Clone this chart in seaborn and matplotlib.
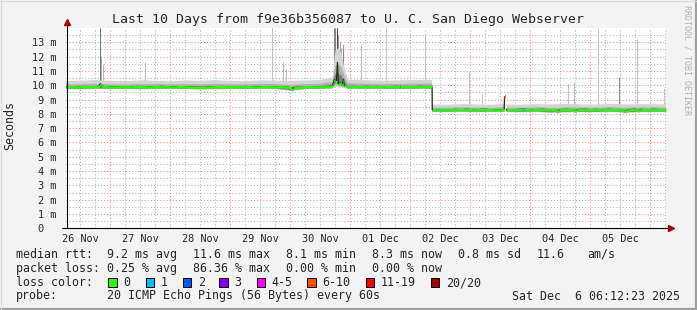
import numpy as np
import pandas as pd
import seaborn as sns
import matplotlib.pyplot as plt
from matplotlib.lines import Line2D
from matplotlib.patches import Rectangle

# time axis: days since 26 Nov 00:00
day_labels = ["26 Nov", "27 Nov", "28 Nov", "29 Nov", "30 Nov",
              "01 Dec", "02 Dec", "03 Dec", "04 Dec", "05 Dec"]

# median rtt (ms), NaN = no data
median_t = [0.26, 0.35, 0.45, 0.55, 0.65, 0.75, 0.81, 0.833, 0.86, 0.95,
            1.05, 1.15, 1.25, 1.35, 1.45, 1.55, 1.65, 1.75, 1.85, 1.95,
            2.05, 2.15, 2.25, 2.35, 2.45, 2.55, 2.65, 2.75, 2.85, 2.95,
            3.05, 3.15, 3.25, 3.35, 3.45, 3.55, 3.65, 3.75, 3.85, 3.95,
            4.00, 4.03, 4.06, 4.15, 4.25, 4.35, 4.45, 4.55, 4.65, 4.70,
            4.733, 4.75, 4.767, 4.783, 4.80, 4.817, 4.833, 4.85, 4.867, 4.883,
            4.90, 4.92, 4.95, 5.05, 5.15, 5.25, 5.35, 5.45, 5.55, 5.65,
            5.75, 5.85, 5.95, 6.05, 6.15, 6.25, 6.36, 6.363, 6.45, 6.55,
            6.65, 6.75, 6.85, 6.95, 7.05, 7.15, 7.25, 7.35, 7.45, 7.563,
            7.567, 7.58, 7.60, 7.70, 7.80, 7.90, 8.00, 8.10, 8.20, 8.30,
            8.40, 8.45, 8.50, 8.60, 8.70, 8.75, 8.80, 8.90, 9.00, 9.10,
            9.20, 9.30, 9.40, 9.50, 9.58, 9.65, 9.75, 9.80, 9.85, 9.95,
            10.05, 10.15, 10.26]
median_v = [9.88, 9.90, 9.87, 9.91, 9.89, 9.90, 9.92, 10.12, 9.93, 9.88,
            9.86, 9.89, 9.90, 9.88, 9.91, 9.89, 9.87, 9.90, 9.92, 9.89,
            9.87, 9.90, 9.88, 9.86, 9.85, 9.84, 9.87, 9.89, 9.91, 9.88,
            9.90, 9.89, 9.91, 9.88, 9.87, 9.90, 9.89, 9.88, 9.90, 9.87,
            9.82, 9.66, 9.84, 9.88, 9.90, 9.89, 9.88, 9.90, 9.89, 9.95,
            10.40, 10.22, 10.30, 11.60, 10.10, 10.05, 10.20, 10.00, 10.08, 10.42,
            10.02, 9.92, 9.90, 9.91, 9.89, 9.92, 9.90, 9.91, 9.89, 9.90,
            9.92, 9.90, 9.91, 9.89, 9.92, 9.90, 9.91, 8.30, 8.27, 8.30,
            8.28, 8.31, 8.29, 8.32, 8.27, 8.30, 8.33, 8.28, 8.26, 8.29,
            9.15, np.nan, 8.30, 8.28, 8.31, 8.33, 8.27, 8.30, 8.32, 8.28,
            8.30, 8.14, 8.29, 8.32, 8.27, 8.18, 8.30, 8.33, 8.29, 8.31,
            8.27, 8.32, 8.29, 8.28, 8.16, 8.30, 8.33, 8.20, 8.31, 8.28,
            8.32, 8.29, 8.30]

# smoke envelope (lowest / highest ping, ms)
smoke_t = [0.26, 0.5, 0.75, 1.0, 1.25, 1.5, 1.75, 2.0, 2.25, 2.5,
           2.75, 3.0, 3.25, 3.5, 3.75, 4.0, 4.25, 4.5, 4.7, 4.75,
           4.8, 4.85, 4.9, 4.95, 5.25, 5.5, 5.75, 6.0, 6.25, 6.36,
           6.363, 6.6, 6.85, 7.1, 7.35, 7.567, 7.58, 7.60, 7.85, 8.1,
           8.35, 8.6, 8.85, 9.1, 9.35, 9.6, 9.85, 10.1, 10.26]
smoke_lo = [9.72, 9.70, 9.73, 9.71, 9.72, 9.70, 9.72, 9.73, 9.71, 9.69,
            9.70, 9.72, 9.71, 9.73, 9.72, 9.60, 9.71, 9.72, 9.76, 9.88,
            9.84, 9.82, 9.78, 9.74, 9.72, 9.73, 9.71, 9.72, 9.73, 9.72,
            8.12, 8.11, 8.13, 8.10, 8.12, 8.13, np.nan, 8.11, 8.10, 8.12,
            8.06, 8.09, 8.11, 8.10, 8.12, 8.07, 8.11, 8.12, 8.11]
smoke_hi = [10.28, 10.32, 10.36, 10.30, 10.28, 10.34, 10.31, 10.28, 10.33, 10.31,
            10.36, 10.30, 10.29, 10.34, 10.32, 10.30, 10.33, 10.36, 10.55, 12.40,
            12.60, 12.20, 11.20, 10.40, 10.36, 10.32, 10.34, 10.36, 10.38, 10.36,
            8.66, 8.64, 8.68, 8.66, 8.62, 8.72, np.nan, 8.66, 8.64, 8.68,
            8.66, 8.70, 8.66, 8.65, 8.71, 8.66, 8.68, 8.67, 8.66]

# isolated high pings
spike_t = [0.833, 0.85, 0.883, 1.567, 3.70, 3.883, 3.917, 4.717, 4.733, 4.75,
           4.767, 4.783, 4.80, 4.817, 4.833, 4.85, 4.867, 4.883, 4.90, 4.917,
           5.183, 5.60, 6.25, 6.983, 7.20, 7.567, 8.617, 8.717, 9.133, 9.467,
           9.783, 10.217]
spike_low = [10.0, 10.0, 10.0, 10.0, 10.0, 10.0, 10.0, 10.0, 10.3, 10.2,
             10.3, 10.3, 10.1, 10.1, 10.2, 10.0, 10.1, 10.3, 10.0, 10.0,
             10.0, 10.0, 10.0, 8.4, 8.4, 9.1, 8.4, 8.4, 8.4, 8.4,
             8.4, 8.4]
spike_top = [14.0, 12.0, 11.5, 11.6, 14.0, 11.6, 11.1, 14.0, 14.0, 14.0,
             14.0, 14.0, 13.5, 13.0, 12.8, 12.6, 12.9, 12.6, 11.0, 10.8,
             12.8, 14.0, 13.5, 10.9, 9.4, 9.4, 10.1, 10.2, 14.0, 10.6,
             13.2, 9.8]
spike_share = [0.6, 0.25, 0.2, 0.15, 0.12, 0.18, 0.15, 0.3, 0.5, 0.5,
               0.85, 0.9, 0.4, 0.35, 0.3, 0.25, 0.3, 0.5, 0.25, 0.15,
               0.15, 0.12, 0.12, 0.12, 0.12, 0.3, 0.12, 0.15, 0.1, 0.45,
               0.12, 0.1]

# packets lost at a few samples
loss_t = [5.833, 7.567, 7.883]
loss_v = [9.90, 9.15, 8.30]
loss_n = [1, 15, 1]

loss_labels = ["0", "1", "2", "3", "4-5", "6-10", "11-19", "20/20"]
loss_colors = ["#26ff00", "#00b8ff", "#0059ff", "#7e00ff",
               "#ff00ff", "#ff5500", "#ff0000", "#a10000"]
loss_bins = [0, 1, 2, 3, 5, 10, 19, 20]

sns.set_style("white")
plt.rcParams['font.family'] = ['DejaVu Sans Mono']

W, H = 697, 310
def fx(x):
    return x / W
def fy(y):
    return 1 - y / H

fig = plt.figure(figsize=(W / 100, H / 100), dpi=100, facecolor='#f3f3f3')
ax = fig.add_axes([fx(66), fy(228.3), 600 / W, (228.3 - 28) / H])
ax.set_facecolor('white')

# smoke
st = np.array(smoke_t)
lo = np.array(smoke_lo)
hi = np.array(smoke_hi)
ax.vlines(spike_t, spike_low, spike_top,
          colors=[str(0.84 - 0.62 * f) for f in spike_share], lw=0.75, zorder=2)
for a, b, c in [(0.0, 1.0, '#d4d4d4'), (0.05, 0.6, '#b0b0b0'), (0.1, 0.35, '#7c7c7c')]:
    ax.fill_between(st, lo + (hi - lo) * a, lo + (hi - lo) * b, color=c, lw=0, zorder=3)

# median line + loss colour band
med = pd.DataFrame({"t": median_t, "rtt": median_v})
med["seg"] = med["rtt"].isna().cumsum()
med = med.dropna()
sns.lineplot(data=med, x="t", y="rtt", units="seg", estimator=None,
             color='#202020', lw=0.9, ax=ax, zorder=4)
for _, g in med.groupby("seg"):
    ax.fill_between(g["t"], g["rtt"] - 0.085, g["rtt"] + 0.085,
                    color=loss_colors[0], lw=0, zorder=5)
for t, v, n in zip(loss_t, loss_v, loss_n):
    k = next(i for i, b in enumerate(loss_bins) if n <= b)
    ax.fill_between([t - 0.01, t + 0.01], v - 0.09, v + 0.09,
                    color=loss_colors[k], lw=0, zorder=6)

ax.set_xlabel('')
ax.set_ylabel('')

# grid
ax.set_xticks(range(1, 11))
ax.set_xticklabels([])
minor_x = [d + q for d in range(0, 11) for q in (0.25, 0.5, 0.75)]
minor_lab = [day_labels[int(d)] if abs(d % 1 - 0.5) < 1e-6 and int(d) < len(day_labels) else ''
             for d in minor_x]
ax.set_xticks(minor_x, minor_lab, minor=True)
ax.set_yticks(range(0, 14))
ax.set_yticklabels(['0  '] + [f'{i} m' for i in range(1, 14)])
ax.set_yticks(np.arange(0.5, 14, 1), minor=True)
ax.grid(which='minor', color='#b4b4b4', lw=0.75, ls=(0, (1, 2)))
ax.grid(which='major', color='#f08a8a', lw=0.75, ls=(0, (1, 2)))
ax.set_axisbelow(True)
for s in ax.spines.values():
    s.set_visible(False)
ax.tick_params(axis='x', which='minor', length=0, pad=4, labelsize=7.4)
ax.tick_params(axis='x', which='major', length=2, color='#e06060', width=0.7)
ax.tick_params(axis='y', which='major', length=2, color='#404040', width=0.7, pad=5, labelsize=7.4)
ax.tick_params(axis='y', which='minor', length=0)
ax.set_xlim(0.2586, 10.2586)
ax.set_ylim(0, 14.0)

# axes with arrows
fig.add_artist(Line2D([fx(67), fx(67)], [fy(228.3), fy(24)], color='black', lw=0.8))
fig.add_artist(Line2D([fx(62), fx(669)], [fy(228.3), fy(228.3)], color='black', lw=0.8))
fig.add_artist(Line2D([fx(67)], [fy(22)], marker='^', color='#a00000', ms=4.5, lw=0))
fig.add_artist(Line2D([fx(671)], [fy(228.3)], marker='>', color='#a00000', ms=4.5, lw=0))

# texts
fig.text(fx(347.5), fy(19), 'Last 10 Days from f9e36b356087 to U. C. San Diego Webserver',
         ha='center', va='center', fontsize=9.55)
fig.text(fx(10), fy(126), 'Seconds', rotation=90, ha='center', va='center', fontsize=8.4)
fig.text(fx(687), fy(60), 'RRDTOOL / TOBI OETIKER', rotation=270, ha='center', va='center',
         fontsize=6.0, color='#b0b0b0')

fs = 8.37
rows = [
    (254.3, [(16, 'median rtt:'), (107, '9.2 ms avg'), (193, '11.6 ms max'), (286, '8.1 ms min'),
             (372, '8.3 ms now'), (458, '0.8 ms sd'), (537, '11.6'), (587, 'am/s')]),
    (268.3, [(16, 'packet loss:'), (107, '0.25 % avg'), (193, '86.36 % max'), (286, '0.00 % min'),
             (372, '0.00 % now')]),
    (282.5, [(16, 'loss color:')]),
    (296.0, [(16, 'probe:'), (107, '20 ICMP Echo Pings (56 Bytes) every 60s')]),
]
for y, items in rows:
    for x, s in items:
        fig.text(fx(x), fy(y), s, ha='left', va='center', fontsize=fs)
fig.text(fx(680), fy(296.0), 'Sat Dec  6 06:12:23 2025', ha='right', va='center', fontsize=fs)

box_x = [108, 145.7, 182.7, 219, 256.7, 307, 365.7, 430.7]
for x, c, lab in zip(box_x, loss_colors, loss_labels):
    fig.add_artist(Rectangle((fx(x), fy(286.7)), 8.5 / W, 8.5 / H, transform=fig.transFigure,
                             facecolor=c, edgecolor='black', lw=0.7))
    fig.text(fx(x + 15), fy(282.5), lab, ha='left', va='center', fontsize=fs)

# 3d frame
fig.add_artist(Line2D([0, 1], [fy(309), fy(309)], color='#a0a0a0', lw=1.6))
fig.add_artist(Line2D([fx(696), fx(696)], [0, 1], color='#a0a0a0', lw=1.6))
fig.add_artist(Line2D([0, 1], [fy(0.5), fy(0.5)], color='#dcdcdc', lw=0.8))
fig.add_artist(Line2D([fx(0.5), fx(0.5)], [0, 1], color='#dcdcdc', lw=0.8))

fig.savefig('out.png', dpi=100, facecolor=fig.get_facecolor())
